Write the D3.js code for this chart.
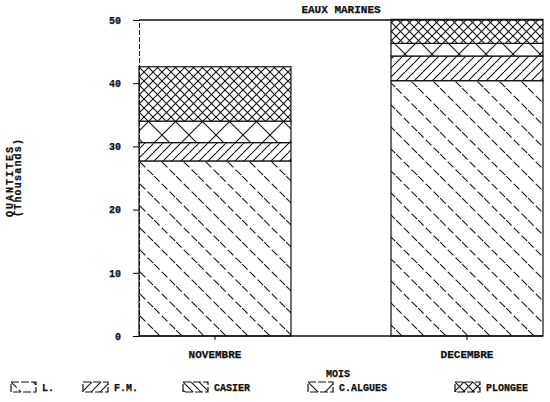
<!DOCTYPE html>
<html><head><meta charset="utf-8">
<script src="https://cdn.jsdelivr.net/npm/d3@7"></script>
<style>
body{margin:0;background:#fff;}
text{font-family:"Liberation Mono","DejaVu Sans Mono",monospace;font-weight:bold;fill:#111;stroke:#111;stroke-width:0.25px;}
</style></head>
<body>
<svg id="chart" width="550" height="402"></svg>
<script>
const categories = ["NOVEMBRE", "DECEMBRE"];
const seriesNames = ["L.", "F.M.", "CASIER", "C.ALGUES", "PLONGEE"];
const valuesL = [27.7, 40.4];
const valuesFM = [2.9, 3.9];
const valuesCASIER = [0, 0];
const valuesCALGUES = [3.4, 2.0];
const valuesPLONGEE = [8.6, 3.8];
const yTicks = [0, 10, 20, 30, 40, 50];
const title = "EAUX MARINES";
const xTitle = "MOIS";
const yTitle1 = "QUANTITES";
const yTitle2 = "(Thousands)";

const rows = categories.map((c, i) => ({
  cat: c,
  "L.": valuesL[i], "F.M.": valuesFM[i], "CASIER": valuesCASIER[i],
  "C.ALGUES": valuesCALGUES[i], "PLONGEE": valuesPLONGEE[i]
}));

const svg = d3.select("#chart");
const x = d3.scaleBand().domain(categories).range([139, 543]).paddingInner(0.397).paddingOuter(0);
const y = d3.scaleLinear().domain([0, 50]).range([336, 20]);

// patterns
const defs = svg.append("defs");
function linePattern(id, size, paths, dash) {
  const p = defs.append("pattern").attr("id", id).attr("patternUnits", "userSpaceOnUse")
    .attr("width", size).attr("height", size);
  p.append("rect").attr("width", size).attr("height", size).attr("fill", "#fff");
  paths.forEach(d => p.append("path").attr("d", d).attr("stroke", "#111")
    .attr("stroke-width", 1.1).attr("fill", "none").attr("stroke-dasharray", dash || null));
}
const bs = s => [`M0,0L${s},${s}`, `M${-s},0L0,${s}`, `M${s},${-s}L${2*s},0`];
const fs = s => [`M0,${s}L${s},0`, `M${-s},${s}L0,0`, `M${s},${2*s}L${2*s},${s}`];
linePattern("pL", 22, bs(22), "8,3");
linePattern("pFM", 9, fs(9));
linePattern("pCAS", 8, bs(8));
linePattern("pCAL", 27, [`M0,0L27,27`, `M0,27L27,0`]);
linePattern("pPL", 9, [`M0,0L9,9`, `M0,9L9,0`]);
const patFor = {"L.": "pL", "F.M.": "pFM", "CASIER": "pCAS", "C.ALGUES": "pCAL", "PLONGEE": "pPL"};

const stack = d3.stack().keys(seriesNames)(rows);

const g = svg.append("g");
stack.forEach(layer => {
  g.selectAll(null).data(layer.filter(d => d[1] - d[0] > 0)).enter().append("rect")
    .attr("x", d => x(d.data.cat))
    .attr("y", d => y(d[1]))
    .attr("width", x.bandwidth())
    .attr("height", d => y(d[0]) - y(d[1]))
    .attr("fill", `url(#${patFor[layer.key]})`)
    .attr("stroke", "#111").attr("stroke-width", 1.2);
});

// frame top line
svg.append("line").attr("x1", 139).attr("x2", 543).attr("y1", y(50)).attr("y2", y(50))
  .attr("stroke", "#111").attr("stroke-width", 1.5);
// x axis
const xAxis = svg.append("g").attr("transform", `translate(0,${y(0)})`)
  .call(d3.axisBottom(x).tickSize(4).tickPadding(10));
xAxis.select(".domain").attr("d", "M139,0H543").attr("stroke", "#111").attr("stroke-width", 1.3);
xAxis.selectAll("text").attr("font-size", 11).style("font-family", '"Liberation Mono",monospace').style("font-weight", "bold");
// y axis
const yAxis = svg.append("g").attr("transform", "translate(139,0)")
  .call(d3.axisLeft(y).tickValues(yTicks).tickSize(6).tickPadding(12));
yAxis.select(".domain").attr("stroke-dasharray", "5,2").attr("stroke", "#111");
yAxis.selectAll("text").attr("font-size", 10).style("font-family", '"Liberation Mono",monospace').style("font-weight", "bold");

// titles
svg.append("text").attr("x", 341).attr("y", 13).attr("text-anchor", "middle")
  .attr("font-size", 11).text(title);
svg.append("text").attr("x", 338).attr("y", 377).attr("text-anchor", "middle")
  .attr("font-size", 10).text(xTitle);
svg.append("text").attr("transform", "translate(13,217) rotate(-90)")
  .attr("font-size", 10).attr("letter-spacing", 2).text(yTitle1);
svg.append("text").attr("transform", "translate(21,217) rotate(-90)")
  .attr("font-size", 10).attr("letter-spacing", 1.2).text(yTitle2);

// legend
const legendX = [11, 83, 183, 308, 455];
const lg = svg.append("g").selectAll("g").data(seriesNames).enter().append("g")
  .attr("transform", (d, i) => `translate(${legendX[i]},382)`);
lg.append("rect").attr("width", 25).attr("height", 10)
  .attr("fill", d => `url(#${patFor[d]})`).attr("stroke", "#111").attr("stroke-width", 1.2)
  .attr("stroke-dasharray", "8,2");
lg.append("text").attr("x", 31).attr("y", 9).attr("font-size", 10).text(d => d);
</script>
</body></html>
